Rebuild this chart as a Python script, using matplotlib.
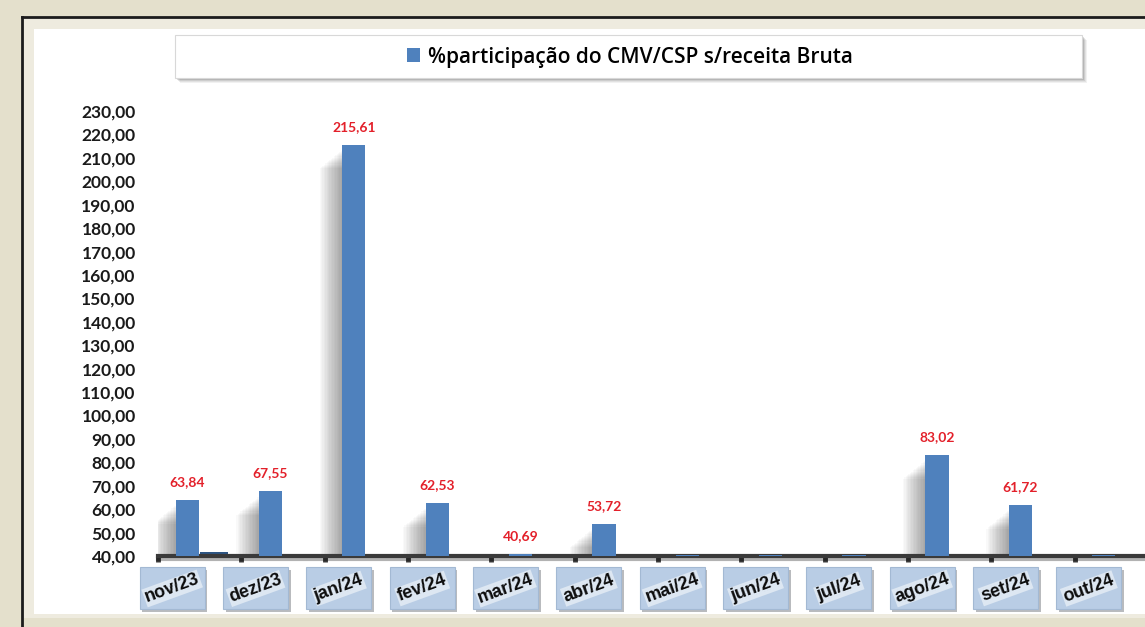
import matplotlib
matplotlib.use('Agg')
import matplotlib.pyplot as plt
import matplotlib.patheffects as pe
from matplotlib.patches import Rectangle
from matplotlib.lines import Line2D
import numpy as np

# data
meses = ['nov/23', 'dez/23', 'jan/24', 'fev/24', 'mar/24', 'abr/24',
         'mai/24', 'jun/24', 'jul/24', 'ago/24', 'set/24', 'out/24']
participacao = [63.84, 67.55, 215.61, 62.53, 40.69, 53.72,
                40.3, 40.3, 40.3, 83.02, 61.72, 40.3]
mostrar_rotulo = [True, True, True, True, True, True,
                  False, False, False, True, True, False]
serie_escura = [41.8, 0, 0, 0, 0, 0, 0, 0, 0, 0, 0, 0]
legenda = '%participação do CMV/CSP s/receita Bruta'
y_ticks = list(range(40, 231, 10))

W, H = 1145, 627
BLUE = '#4f81bd'
RED = '#e3202a'


def fx(x):
    return x / W


def fy(y):
    return 1 - y / H


fig = plt.figure(figsize=(W / 100, H / 100), dpi=100)
fig.patch.set_facecolor('#e4e0cc')

# frame: light band, white chart area, dark outline (kept behind the axes)
fig.add_artist(Rectangle((fx(24), fy(618)), fx(1200), 600 / H, transform=fig.transFigure,
                         facecolor='#eeebdf', edgecolor='none', zorder=-10))
fig.add_artist(Rectangle((fx(34), fy(614)), fx(1200), 585 / H, transform=fig.transFigure,
                         facecolor='white', edgecolor='none', zorder=-9))
fig.add_artist(Line2D([fx(22), fx(22)], [fy(17), 0], transform=fig.transFigure,
                      color='#1c1c1c', lw=2, zorder=-8))
fig.add_artist(Line2D([fx(22), 1], [fy(17), fy(17)], transform=fig.transFigure,
                      color='#1c1c1c', lw=2, zorder=-8))

# legend box with soft shadow
for k, a in enumerate([0.08, 0.10, 0.14, 0.20]):
    off = 5 - k
    fig.add_artist(Rectangle((fx(175 + off), fy(78 + off)), fx(907), 43 / H,
                             transform=fig.transFigure, facecolor='#555555',
                             edgecolor='none', alpha=a, zorder=-7))
fig.add_artist(Rectangle((fx(175), fy(78)), fx(907), 43 / H, transform=fig.transFigure,
                         facecolor='white', edgecolor='#d8d8d8', lw=0.8, zorder=-6))

ax = fig.add_axes([fx(158), (H - 556) / H, 1000 / W, 445 / H])
ax.patch.set_alpha(0)
x = np.arange(len(meses))

# soft bar shadows to the left
vals = np.array(participacao)
for k in range(1, 17):
    ax.bar(x - 0.15 - k * 0.017, vals - 2 - k * 0.5, width=0.28, color='black',
           alpha=0.022, linewidth=0, zorder=1)

barras = ax.bar(x - 0.15, participacao, width=0.28, color=BLUE, linewidth=0, zorder=3)
ax.bar(x + 0.17, serie_escura, width=0.34, color='#2d5583', linewidth=0, zorder=2)

for i, v in enumerate(participacao):
    if mostrar_rotulo[i]:
        ax.annotate(f'{v:.2f}'.replace('.', ','), (x[i] - 0.15, v), xytext=(0, 13),
                    textcoords='offset points', ha='center', va='center', color=RED,
                    fontsize=10, fontweight='bold', family='Lato')

ax.set_xlim(-0.5, 11.5)
ax.set_ylim(40, 230)
ax.set_yticks(y_ticks)
ax.set_yticklabels([f'{v:.2f}'.replace('.', ',') for v in y_ticks],
                   fontsize=12.5, fontweight='bold', family='Lato', color='#1a1a1a')
ax.tick_params(axis='y', length=0, pad=16)
ax.set_xticks(np.arange(-0.5, 12, 1))
ax.set_xticklabels([])
ax.tick_params(axis='x', length=4, width=3.5, color='#3a3a3a', direction='out')

for s in ['left', 'right', 'top']:
    ax.spines[s].set_visible(False)
ax.spines['bottom'].set_color('#3a3a3a')
ax.spines['bottom'].set_linewidth(3)
ax.spines['bottom'].set_path_effects([pe.SimpleLineShadow(offset=(0, -2), alpha=0.3), pe.Normal()])

# category labels in light blue boxes
tr = ax.get_xaxis_transform()
for i, lab in enumerate(meses):
    caixa = Rectangle((x[i] - 0.33 - 0.39, -0.119), 0.78, 0.094, transform=tr,
                      facecolor='#b9cde5', edgecolor='#a3b9d3', lw=0.8, clip_on=False, zorder=2)
    caixa.set_path_effects([pe.SimplePatchShadow(offset=(2, -2), alpha=0.35), pe.Normal()])
    ax.add_patch(caixa)
    ax.text(x[i] - 0.33, -0.073, lab, transform=tr, rotation=20, ha='center', va='center',
            fontsize=13, fontweight='bold', family='Liberation Sans', color='#0d0d0d',
            rotation_mode='anchor', zorder=4,
            bbox=dict(facecolor='#dde7f2', edgecolor='none', pad=0.6), clip_on=False)

leg = ax.legend([barras], [legenda], loc='center', bbox_to_anchor=(fx(630), fy(57)),
                bbox_transform=fig.transFigure, frameon=False, handlelength=0.62,
                handleheight=0.62, handletextpad=0.35,
                prop={'family': 'Open Sans', 'size': 15, 'weight': 'semibold'})
leg.set_zorder(10)

fig.savefig('out.png', dpi=100, facecolor=fig.get_facecolor())
